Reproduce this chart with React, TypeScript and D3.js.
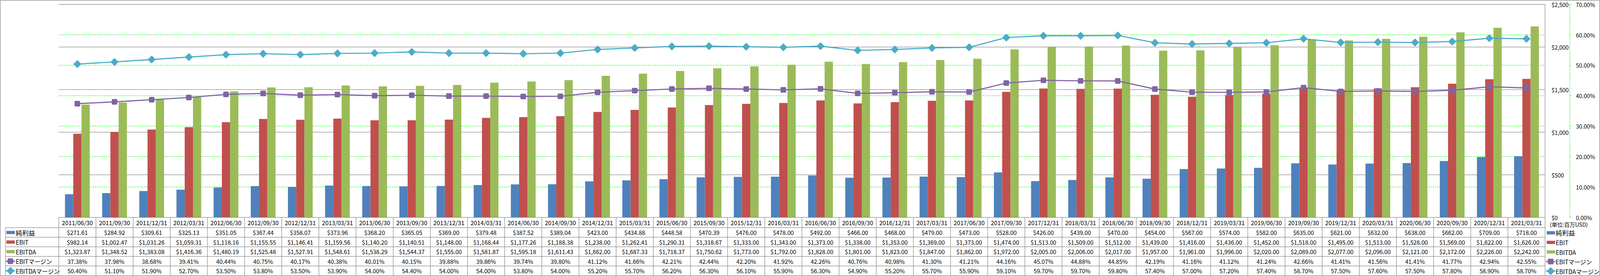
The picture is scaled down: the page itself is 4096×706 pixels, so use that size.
import * as d3 from "d3";

const dates = [
  "2011/06/30", "2011/09/30", "2011/12/31", "2012/03/31", "2012/06/30", "2012/09/30", "2012/12/31", "2013/03/31",
  "2013/06/30", "2013/09/30", "2013/12/31", "2014/03/31", "2014/06/30", "2014/09/30", "2014/12/31", "2015/03/31",
  "2015/06/30", "2015/09/30", "2015/12/31", "2016/03/31", "2016/06/30", "2016/09/30", "2016/12/31", "2017/03/31",
  "2017/06/30", "2017/09/30", "2017/12/31", "2018/03/31", "2018/06/30", "2018/09/30", "2018/12/31", "2019/03/31",
  "2019/06/30", "2019/09/30", "2019/12/31", "2020/03/31", "2020/06/30", "2020/09/30", "2020/12/31", "2021/03/31",
];

const netIncome = [
  271.61, 284.92, 309.61, 325.13, 351.05, 367.44, 358.07, 373.96, 368.2, 365.05, 369.0, 379.48, 387.52, 389.04,
  423.0, 434.88, 448.58, 470.39, 476.0, 478.0, 492.0, 466.0, 468.0, 479.0, 473.0, 528.0, 426.0, 439.0, 470.0,
  454.0, 567.0, 574.0, 582.0, 635.0, 621.0, 632.0, 638.0, 662.0, 709.0, 718.0,
];

const ebit = [
  982.14, 1002.47, 1031.26, 1059.31, 1118.16, 1155.55, 1146.41, 1159.56, 1140.2, 1140.51, 1148.0, 1168.44, 1177.26,
  1188.38, 1238.0, 1262.41, 1290.31, 1318.67, 1333.0, 1343.0, 1373.0, 1338.0, 1353.0, 1369.0, 1373.0, 1474.0,
  1513.0, 1509.0, 1512.0, 1439.0, 1416.0, 1436.0, 1452.0, 1518.0, 1495.0, 1513.0, 1528.0, 1569.0, 1622.0, 1626.0,
];

const ebitda = [
  1323.87, 1348.52, 1383.08, 1416.36, 1480.19, 1525.48, 1527.91, 1548.61, 1538.29, 1544.37, 1555.0, 1581.87,
  1595.18, 1611.43, 1662.0, 1687.33, 1718.37, 1750.62, 1773.0, 1792.0, 1828.0, 1801.0, 1823.0, 1847.0, 1862.0,
  1972.0, 2005.0, 2006.0, 2017.0, 1957.0, 1961.0, 1996.0, 2020.0, 2089.0, 2077.0, 2096.0, 2121.0, 2172.0, 2226.0,
  2242.0,
];

const ebitMargin = [
  37.38, 37.98, 38.68, 39.41, 40.44, 40.75, 40.17, 40.38, 40.01, 40.15, 39.88, 39.86, 39.74, 39.8, 41.12, 41.66,
  42.21, 42.44, 42.2, 41.92, 42.26, 40.76, 40.98, 41.3, 41.21, 44.16, 45.07, 44.88, 44.85, 42.19, 41.16, 41.12,
  41.24, 42.66, 41.41, 41.56, 41.41, 41.77, 42.94, 42.55,
];

const ebitdaMargin = [
  50.4, 51.1, 51.9, 52.7, 53.5, 53.8, 53.5, 53.9, 54.0, 54.4, 54.0, 54.0, 53.8, 54.0, 55.2, 55.7, 56.2, 56.3, 56.1,
  55.9, 56.3, 54.9, 55.2, 55.7, 55.9, 59.1, 59.7, 59.7, 59.8, 57.4, 57.0, 57.2, 57.4, 58.7, 57.5, 57.6, 57.5, 57.8,
  58.9, 58.7,
];

const leftTicks = [0, 500, 1000, 1500, 2000, 2500];
const rightTicks = [0, 10, 20, 30, 40, 50, 60, 70];
const unitLabel = "(単位:百万USD)";

const BLUE = "#4F81BD";
const RED = "#C0504D";
const GREEN = "#9BBB59";
const PURPLE = "#8064A2";
const CYAN = "#4BACC6";
const GRID = "#878787";
const DASH = "#00FF00";
const FONT = "'Noto Sans CJK JP', 'Noto Sans', sans-serif";

// reference pixel space; svg scales it down to the window
const W = 4981;
const H = 858;
const plot = { left: 183, right: 4810, top: 13.5, bottom: 676 };
const headerBottom = 708;
const tableBottom = 857;

const money = d3.format("$,.2f");
const pct = (v: number) => d3.format(".2f")(v) + "%";

type Row = { name: string; values: number[]; fmt: (v: number) => string; kind: "bar" | "square" | "diamond"; color: string };

const rows: Row[] = [
  { name: "純利益", values: netIncome, fmt: money, kind: "bar", color: BLUE },
  { name: "EBIT", values: ebit, fmt: money, kind: "bar", color: RED },
  { name: "EBITDA", values: ebitda, fmt: money, kind: "bar", color: GREEN },
  { name: "EBITマージン", values: ebitMargin, fmt: pct, kind: "square", color: PURPLE },
  { name: "EBITDAマージン", values: ebitdaMargin, fmt: pct, kind: "diamond", color: CYAN },
];

function Marker({ kind, color, x, y }: { kind: Row["kind"]; color: string; x: number; y: number }) {
  if (kind === "square") {
    return <rect x={x - 8.75} y={y - 8.75} width={17.5} height={17.5} rx={3} fill={color} />;
  }
  if (kind === "diamond") {
    const r = 12.5;
    return <path d={`M${x},${y - r}L${x + r},${y}L${x},${y + r}L${x - r},${y}Z`} fill={color} />;
  }
  return null;
}

function LegendKey({ row, x, y }: { row: Row; x: number; y: number }) {
  if (row.kind === "bar") {
    return <rect x={x} y={y - 5} width={26} height={10} fill={row.color} />;
  }
  return (
    <g>
      <line x1={x - 2} x2={x + 27} y1={y} y2={y} stroke={row.color} strokeWidth={4} />
      <Marker kind={row.kind} color={row.color} x={x + 12.5} y={y} />
    </g>
  );
}

export default function App() {
  const x = d3.scaleBand<string>().domain(dates).range([plot.left, plot.right]).paddingInner(0).paddingOuter(0);
  const bw = x.bandwidth();
  const barW = bw / 4.5;
  const sub = d3.scaleBand<number>().domain([0, 1, 2]).range([(bw - 3 * barW) / 2, (bw + 3 * barW) / 2]);
  const yL = d3.scaleLinear().domain([0, 2500]).range([plot.bottom, plot.top]);
  const yR = d3.scaleLinear().domain([0, 70]).range([plot.bottom, plot.top]);
  const cx = (d: string) => (x(d) ?? 0) + bw / 2;

  const line = d3
    .line<number>()
    .x((_, i) => cx(dates[i]))
    .y((v) => yR(v));

  const rowH = (tableBottom - headerBottom) / rows.length;
  const rowY = (i: number) => headerBottom + rowH * (i + 0.5);
  const barRows = rows.filter((r) => r.kind === "bar");
  const lineRows = rows.filter((r) => r.kind !== "bar");

  return (
    <>
      <style>{"body{margin:0}"}</style>
      <svg width={4096} height={706} viewBox={`0 0 ${W} ${H}`} style={{ display: "block" }} fontFamily={FONT}>
        <rect x={0} y={0} width={W} height={H} fill="#fff" />
        <rect x={1} y={1} width={W - 2} height={tableBottom - 1} fill="none" stroke={GRID} strokeWidth={1.5} />

        {/* gridlines */}
        {rightTicks.slice(1).map((t) => (
          <line key={"g" + t} x1={plot.left} x2={plot.right} y1={yR(t)} y2={yR(t)} stroke={DASH} strokeWidth={1.5} strokeDasharray="4,3" />
        ))}
        {leftTicks.slice(1).map((t) => (
          <line key={"l" + t} x1={plot.left} x2={plot.right} y1={yL(t)} y2={yL(t)} stroke={GRID} strokeWidth={1.5} />
        ))}

        {/* bars */}
        {barRows.map((r, k) => (
          <g key={r.name}>
            {r.values.map((v, i) => (
              <rect
                key={i}
                x={(x(dates[i]) ?? 0) + (sub(k) ?? 0)}
                y={yL(v)}
                width={barW}
                height={yL(0) - yL(v)}
                fill={r.color}
              />
            ))}
          </g>
        ))}

        {/* margin lines */}
        {lineRows.map((r) => (
          <g key={r.name}>
            <path d={line(r.values) ?? ""} fill="none" stroke={r.color} strokeWidth={3.5} strokeLinejoin="round" />
            {r.values.map((v, i) => (
              <Marker key={i} kind={r.kind} color={r.color} x={cx(dates[i])} y={yR(v)} />
            ))}
          </g>
        ))}

        {/* primary axis on the right */}
        <line x1={plot.right} x2={plot.right} y1={plot.top} y2={tableBottom} stroke={GRID} strokeWidth={1.5} />
        <line x1={plot.left} x2={plot.right} y1={plot.bottom} y2={plot.bottom} stroke={GRID} strokeWidth={1.5} />
        {leftTicks.map((t) => (
          <text key={"tl" + t} x={4830} y={yL(t)} dominantBaseline="central" fontSize={17.5} fill="#000">
            {d3.format("$,")(t)}
          </text>
        ))}

        {/* secondary axis */}
        <line x1={4887} x2={4887} y1={plot.top} y2={plot.bottom} stroke={DASH} strokeWidth={1.5} strokeDasharray="4,3" />
        {rightTicks.map((t) => (
          <g key={"tr" + t}>
            <line x1={4887} x2={4891} y1={yR(t)} y2={yR(t)} stroke={DASH} strokeWidth={1.5} />
            <text x={4906} y={yR(t)} dominantBaseline="central" fontSize={17.5} fill="#000">
              {d3.format(".2%")(t / 100)}
            </text>
          </g>
        ))}

        {/* data table */}
        {dates.map((d) => (
          <line key={"c" + d} x1={x(d)} x2={x(d)} y1={plot.bottom} y2={tableBottom} stroke={GRID} strokeWidth={1.5} />
        ))}
        <line x1={17} x2={17} y1={headerBottom} y2={tableBottom} stroke={GRID} strokeWidth={1.5} />
        {rows.map((r, i) => (
          <line
            key={"h" + r.name}
            x1={17}
            x2={plot.right}
            y1={headerBottom + rowH * i}
            y2={headerBottom + rowH * i}
            stroke={GRID}
            strokeWidth={1.5}
          />
        ))}
        {dates.map((d) => (
          <text key={"d" + d} x={cx(d)} y={692} textAnchor="middle" dominantBaseline="central" fontSize={18.5} fill="#000">
            {d}
          </text>
        ))}
        {rows.map((r, i) => (
          <g key={"r" + r.name}>
            <LegendKey row={r} x={20} y={rowY(i)} />
            <text x={49} y={rowY(i)} dominantBaseline="central" fontSize={r.name === "純利益" ? 20 : 18.5} fill="#000">
              {r.name}
            </text>
            {r.values.map((v, j) => (
              <text key={j} x={cx(dates[j])} y={rowY(i)} textAnchor="middle" dominantBaseline="central" fontSize={18} fill="#000">
                {r.fmt(v)}
              </text>
            ))}
          </g>
        ))}

        {/* right legend */}
        <text x={4825} y={698} dominantBaseline="central" fontSize={17} fill="#000">
          {unitLabel}
        </text>
        {rows.map((r, i) => (
          <g key={"lg" + r.name}>
            <LegendKey row={r} x={4815} y={rowY(i) + 1} />
            <text x={4843} y={rowY(i) + 1} dominantBaseline="central" fontSize={r.name === "純利益" ? 20 : 18.5} fill="#000">
              {r.name}
            </text>
          </g>
        ))}
      </svg>
    </>
  );
}
